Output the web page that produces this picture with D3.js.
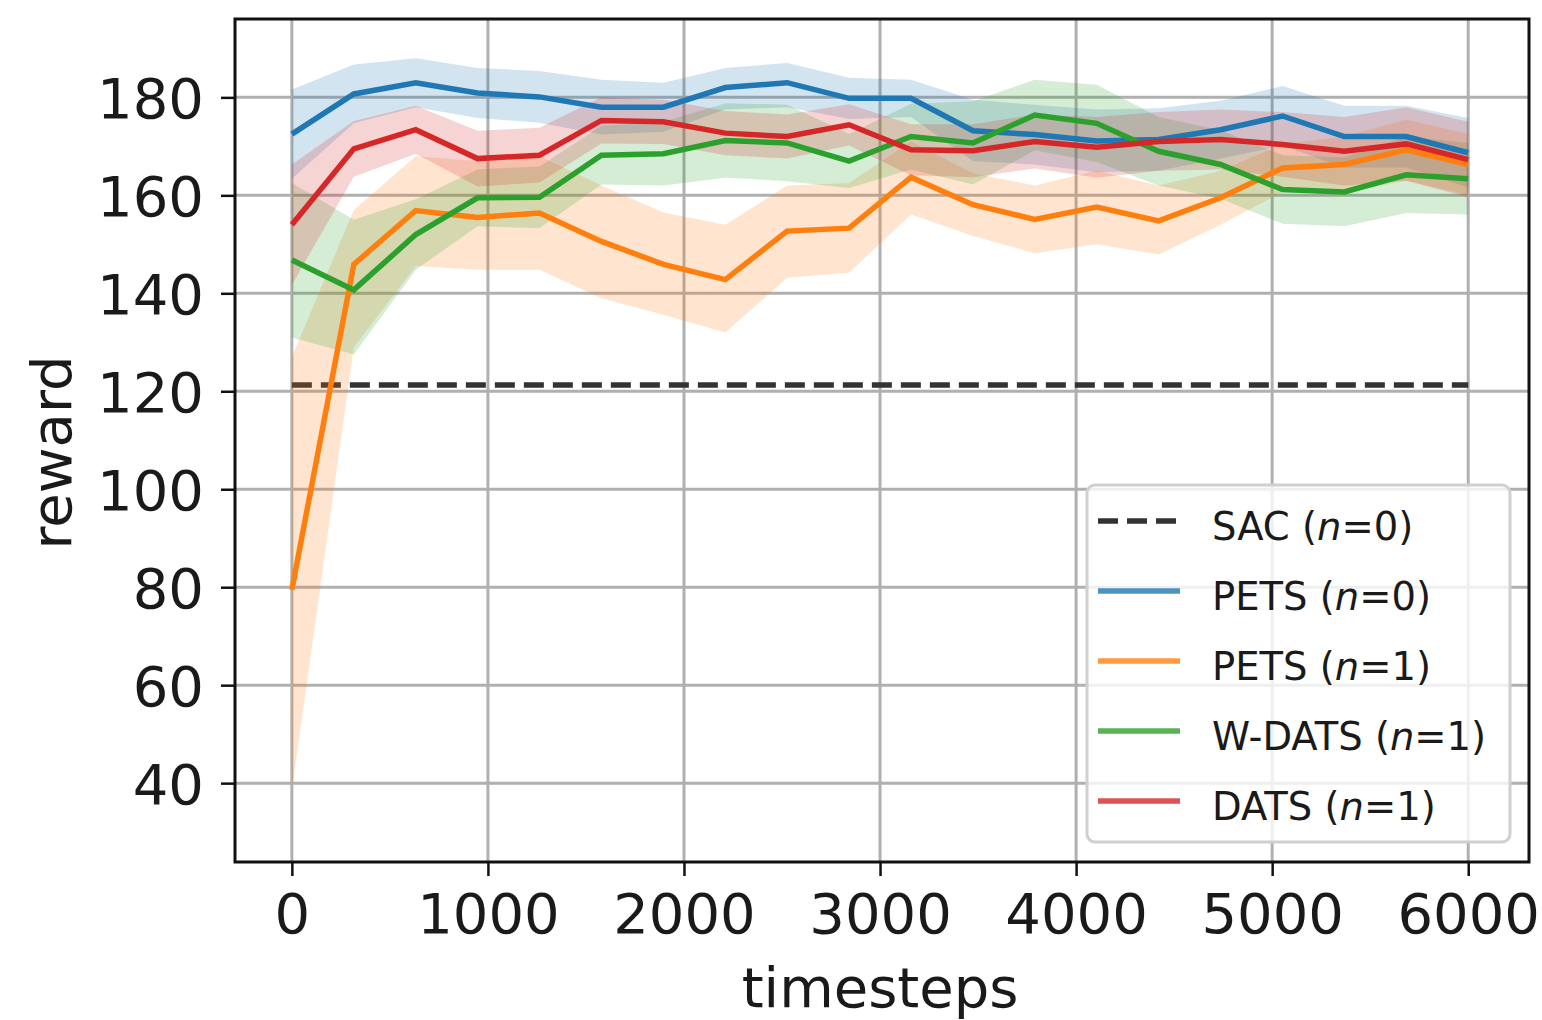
<!DOCTYPE html>
<html>
<head>
<meta charset="utf-8">
<script src="https://cdn.jsdelivr.net/npm/d3@7"></script>
<style>
  html, body { margin: 0; padding: 0; background: #fff; }
  svg { display: block; font-family: "DejaVu Sans", sans-serif; }
</style>
</head>
<body>
<svg id="chart" width="1542" height="1020"></svg>
<script>
// ---------- data ----------
const steps = [0, 316, 632, 947, 1263, 1579, 1895, 2211, 2526, 2842, 3158, 3474, 3789, 4105, 4421, 4737, 5053, 5368, 5684, 6000];

const sacSteps = [0, 6000];
const sacReward = [121.3, 121.3];

const petsN0Mean  = [172.5, 180.7, 183.0, 180.9, 180.1, 178.0, 178.0, 182.0, 183.0, 179.8, 179.8, 173.2, 172.4, 171.1, 171.4, 173.4, 176.2, 172.0, 172.0, 168.7];
const petsN0Upper = [181.6, 186.7, 188.0, 186.0, 185.4, 183.6, 183.0, 186.0, 187.0, 184.0, 183.6, 179.5, 178.5, 177.5, 177.8, 179.3, 182.3, 178.3, 178.3, 175.8];
const petsN0Lower = [163.4, 174.7, 178.0, 175.8, 174.8, 172.4, 173.0, 177.5, 178.0, 175.6, 176.0, 167.0, 166.3, 164.7, 165.0, 167.5, 170.1, 165.7, 165.7, 161.6];

const petsN1Mean  = [79.5, 145.9, 156.9, 155.5, 156.4, 150.6, 145.9, 142.8, 152.7, 153.3, 163.7, 158.1, 155.1, 157.6, 154.8, 159.5, 165.6, 166.3, 169.3, 166.3];
const petsN1Upper = [127.0, 157.0, 168.0, 167.0, 168.0, 162.0, 156.5, 154.0, 162.0, 162.5, 171.0, 164.5, 162.0, 165.0, 162.0, 165.0, 170.5, 172.0, 175.5, 172.5];
const petsN1Lower = [38.5, 129.0, 145.6, 144.8, 144.8, 139.0, 135.6, 132.0, 143.2, 144.2, 156.1, 151.7, 148.2, 150.0, 147.9, 154.0, 160.7, 160.6, 163.0, 160.1];

const wdatsMean  = [146.8, 140.7, 152.0, 159.5, 159.6, 168.2, 168.5, 171.2, 170.7, 167.0, 172.0, 170.7, 176.4, 174.7, 169.0, 166.3, 161.2, 160.7, 164.2, 163.4];
const wdatsUpper = [162.5, 155.0, 159.2, 165.3, 165.9, 174.2, 175.0, 178.8, 178.5, 172.5, 178.7, 179.2, 183.6, 182.6, 176.0, 173.3, 168.2, 167.7, 172.0, 170.7];
const wdatsLower = [131.0, 127.5, 144.8, 153.7, 153.3, 162.2, 162.0, 163.6, 162.9, 161.5, 165.3, 162.2, 169.2, 166.8, 162.0, 159.3, 154.2, 153.7, 156.4, 156.1];

const datsMean  = [154.0, 169.5, 173.4, 167.5, 168.2, 175.3, 175.0, 172.7, 172.0, 174.4, 169.3, 169.1, 171.0, 169.8, 171.0, 171.4, 170.4, 169.0, 170.5, 167.3];
const datsUpper = [166.3, 175.2, 178.3, 173.2, 173.8, 180.0, 179.5, 177.2, 176.5, 178.6, 174.5, 174.5, 176.5, 176.0, 177.0, 177.5, 177.0, 176.0, 178.0, 175.0];
const datsLower = [141.7, 163.8, 168.5, 161.8, 162.6, 170.6, 170.5, 168.2, 167.5, 170.2, 164.1, 163.7, 165.5, 163.6, 165.0, 165.3, 163.8, 162.0, 163.0, 159.6];

const xTicks = [0, 1000, 2000, 3000, 4000, 5000, 6000];
const yTicks = [40, 60, 80, 100, 120, 140, 160, 180];

const series = [
    { name: 'PETS', n: '0', color: '#1f77b4', mean: petsN0Mean, upper: petsN0Upper, lower: petsN0Lower },
    { name: 'PETS', n: '1', color: '#ff7f0e', mean: petsN1Mean, upper: petsN1Upper, lower: petsN1Lower },
    { name: 'W-DATS', n: '1', color: '#2ca02c', mean: wdatsMean, upper: wdatsUpper, lower: wdatsLower },
    { name: 'DATS', n: '1', color: '#d62728', mean: datsMean, upper: datsUpper, lower: datsLower }
];

// ---------- layout ----------
const plot = { left: 235, right: 1529, top: 19, bottom: 862 };
const FONT = 56;
const LEGEND_FONT = 38.5;

const svg = d3.select('#chart');

const x = d3.scaleLinear().domain([-290, 6310]).range([plot.left, plot.right]);
const y = d3.scaleLinear().domain([23.9, 196]).range([plot.bottom, plot.top]);

// grid
const grid = svg.append('g').attr('class', 'grid');
grid.selectAll('line.gx')
    .data(xTicks)
    .join('line')
    .attr('class', 'gx')
    .attr('x1', d => x(d)).attr('x2', d => x(d))
    .attr('y1', plot.top).attr('y2', plot.bottom)
    .attr('stroke', '#b0b0b0').attr('stroke-width', 3);
grid.selectAll('line.gy')
    .data(yTicks)
    .join('line')
    .attr('class', 'gy')
    .attr('x1', plot.left).attr('x2', plot.right)
    .attr('y1', d => y(d)).attr('y2', d => y(d))
    .attr('stroke', '#b0b0b0').attr('stroke-width', 3);

// clip
svg.append('clipPath').attr('id', 'clip')
    .append('rect')
    .attr('x', plot.left).attr('y', plot.top)
    .attr('width', plot.right - plot.left).attr('height', plot.bottom - plot.top);

const marks = svg.append('g').attr('clip-path', 'url(#clip)');

// SAC baseline
const sacLine = d3.line().x((d, i) => x(sacSteps[i])).y(d => y(d));
marks.append('path')
    .attr('d', sacLine(sacReward))
    .attr('fill', 'none')
    .attr('stroke', '#333333')
    .attr('stroke-width', 5.5)
    .attr('stroke-dasharray', '20 9');

// bands first, mean lines on top
const area = d3.area()
    .x(d => x(d.step))
    .y0(d => y(d.lo))
    .y1(d => y(d.hi));
const line = d3.line()
    .x(d => x(d.step))
    .y(d => y(d.mean));

const rowsFor = s => steps.map((step, i) => ({ step, mean: s.mean[i], lo: s.lower[i], hi: s.upper[i] }));

const bands = marks.append('g').attr('class', 'bands');
const lines = marks.append('g').attr('class', 'lines');

series.forEach(s => {
    const rows = rowsFor(s);
    bands.append('path')
        .attr('d', area(rows))
        .attr('fill', s.color)
        .attr('fill-opacity', 0.2);
    lines.append('path')
        .attr('d', line(rows))
        .attr('fill', 'none')
        .attr('stroke', s.color)
        .attr('stroke-width', 5.5)
        .attr('stroke-linejoin', 'miter');
});

// frame
svg.append('rect')
    .attr('x', plot.left).attr('y', plot.top)
    .attr('width', plot.right - plot.left).attr('height', plot.bottom - plot.top)
    .attr('fill', 'none').attr('stroke', '#111').attr('stroke-width', 3);

// axes
const xAxis = d3.axisBottom(x).tickValues(xTicks).tickSize(14).tickPadding(20).tickFormat(d3.format('d'));
const yAxis = d3.axisLeft(y).tickValues(yTicks).tickSize(14).tickPadding(20).tickFormat(d3.format('d'));

const gx = svg.append('g').attr('transform', `translate(0,${plot.bottom})`).call(xAxis);
const gy = svg.append('g').attr('transform', `translate(${plot.left},0)`).call(yAxis);
[gx, gy].forEach(g => {
    g.select('.domain').remove();
    g.selectAll('.tick line').attr('stroke', '#111').attr('stroke-width', 2.5);
    g.selectAll('.tick text')
        .attr('fill', '#1a1a1a')
        .attr('font-size', FONT)
        .attr('font-family', '"DejaVu Sans", sans-serif');
});
gx.selectAll('.tick text').attr('dy', '0.74em').attr('y', 30);
gy.selectAll('.tick text').attr('dy', '0.36em').attr('x', -31);

// axis titles
svg.append('text')
    .attr('x', (x(0) + x(6000)) / 2)
    .attr('y', 1007)
    .attr('text-anchor', 'middle')
    .attr('font-size', FONT)
    .attr('fill', '#1a1a1a')
    .text('timesteps');

svg.append('text')
    .attr('transform', `translate(71,${(plot.top + plot.bottom) / 2 + 12}) rotate(-90)`)
    .attr('text-anchor', 'middle')
    .attr('font-size', FONT)
    .attr('fill', '#1a1a1a')
    .text('reward');

// ---------- legend ----------
const legendItems = [
    { name: 'SAC', n: '0', color: '#333333', dash: '20 9' },
    ...series.map(s => ({ name: s.name, n: s.n, color: s.color, dash: null }))
];

const legend = svg.append('g').attr('class', 'legend');
legend.append('rect')
    .attr('x', 1087).attr('y', 485)
    .attr('width', 423).attr('height', 357)
    .attr('rx', 8)
    .attr('fill', '#fff').attr('fill-opacity', 0.8)
    .attr('stroke', '#d0d0d0').attr('stroke-width', 3);

const rowY = i => 521 + i * 70;
legendItems.forEach((it, i) => {
    legend.append('line')
        .attr('x1', 1098).attr('x2', 1180)
        .attr('y1', rowY(i)).attr('y2', rowY(i))
        .attr('stroke', it.color)
        .attr('stroke-width', 5.5)
        .attr('stroke-opacity', it.dash ? 1 : 0.8)
        .attr('stroke-dasharray', it.dash);
    const t = legend.append('text')
        .attr('x', 1212)
        .attr('y', rowY(i))
        .attr('dy', '0.5em')
        .attr('font-size', LEGEND_FONT)
        .attr('fill', '#1a1a1a');
    t.append('tspan').text(`${it.name} (`);
    t.append('tspan').attr('font-style', 'italic').text('n');
    t.append('tspan').text(`=${it.n})`);
});
</script>
</body>
</html>
